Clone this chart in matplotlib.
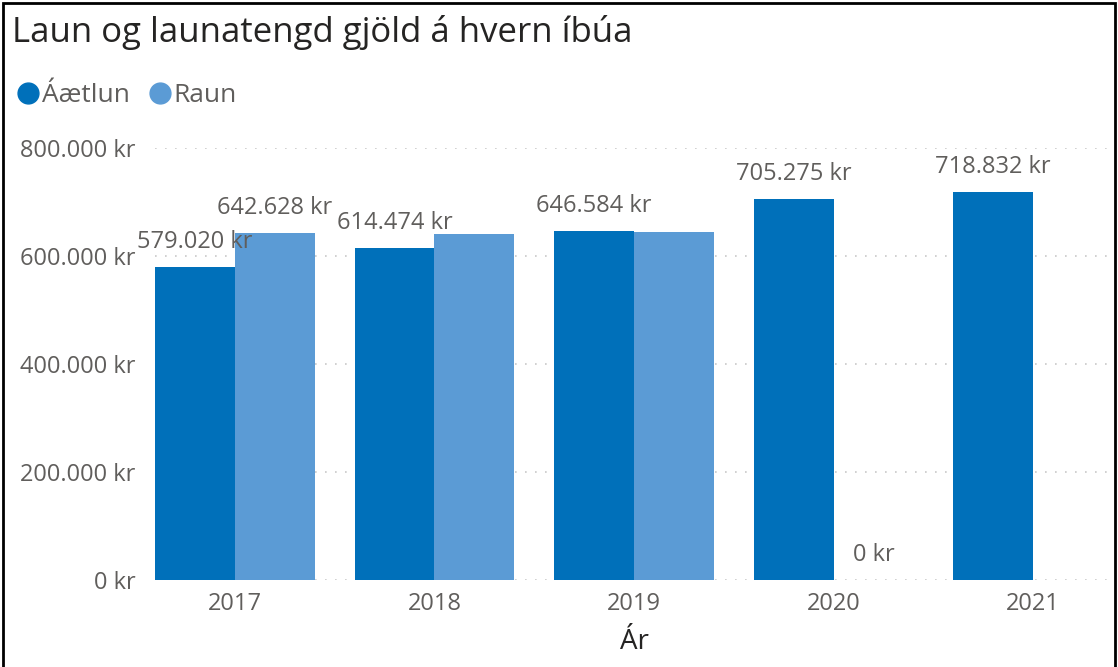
import numpy as np
import matplotlib.pyplot as plt
from matplotlib.patches import Rectangle
from matplotlib.lines import Line2D

# gögn
years = ['2017', '2018', '2019', '2020', '2021']
aaetlun = [579020, 614474, 646584, 705275, 718832]
raun = [642628, 641000, 644000, 0, np.nan]
# hvaða gildi fá merkingu (Power BI felur sumar sem skarast)
show_aaetlun = [True, True, True, True, True]
show_raun = [True, False, False, True, False]
yticks = [0, 200000, 400000, 600000, 800000]

c_aa = '#0070BA'
c_ra = '#5B9BD5'
grey = '#605E5C'

plt.rcParams['font.family'] = ['Open Sans', 'DejaVu Sans']

def kr(v):
    return f'{int(v):,} kr'.replace(',', '.')

fig = plt.figure(figsize=(11.18, 6.67), dpi=100)
ax = fig.add_axes([155 / 1118, 1 - 580 / 667, (1113 - 155) / 1118, (580 - 148) / 667])

x = np.arange(len(years))
w = 0.4
ax.bar(x - w / 2, aaetlun, w, color=c_aa, zorder=2)
ax.bar(x + w / 2, np.nan_to_num(raun), w, color=c_ra, zorder=2)

def label(xp, v):
    ax.annotate(kr(v), (xp, v), xytext=(0, 18), textcoords='offset points',
                ha='center', va='center', fontsize=17, color=grey, zorder=3)

for i in range(len(years)):
    if show_aaetlun[i]:
        label(x[i] - w / 2, aaetlun[i])
    if show_raun[i] and not np.isnan(raun[i]):
        label(x[i] + w / 2, raun[i])

ax.set_xlim(-0.4, 4.4)
ax.set_ylim(0, 800000)
ax.set_xticks(x)
ax.set_xticklabels(years, fontsize=17, color=grey)
ax.set_yticks(yticks)
ax.set_yticklabels([kr(v) for v in yticks], fontsize=17, color=grey)
ax.tick_params(length=0, pad=9)
ax.tick_params(axis='y', pad=14)
for s in ax.spines.values():
    s.set_visible(False)
ax.grid(axis='y', color='#C8C8C8', linestyle=(0, (1, 5)), linewidth=1.2, zorder=0)
ax.set_axisbelow(True)
ax.set_xlabel('Ár', fontsize=20, color='#252423', labelpad=8)

# titill og skýringar
fig.text(12 / 1118, 1 - 32 / 667, 'Laun og launatengd gjöld á hvern íbúa', fontsize=25,
         color='#252423', va='center', ha='left')
fig.add_artist(Line2D([28 / 1118], [1 - 93 / 667], marker='o', markersize=15, color=c_aa,
                      transform=fig.transFigure))
fig.text(42 / 1118, 1 - 95 / 667, 'Áætlun', fontsize=19, color=grey, va='center')
fig.add_artist(Line2D([160 / 1118], [1 - 93 / 667], marker='o', markersize=15, color=c_ra,
                      transform=fig.transFigure))
fig.text(173 / 1118, 1 - 95 / 667, 'Raun', fontsize=19, color=grey, va='center')

# rammi
fig.add_artist(Rectangle((3 / 1118, -0.01), 1112 / 1118, 1 - 3 / 667 + 0.01, fill=False,
                         edgecolor='black', linewidth=2, transform=fig.transFigure))

fig.savefig('out.png', dpi=100)
